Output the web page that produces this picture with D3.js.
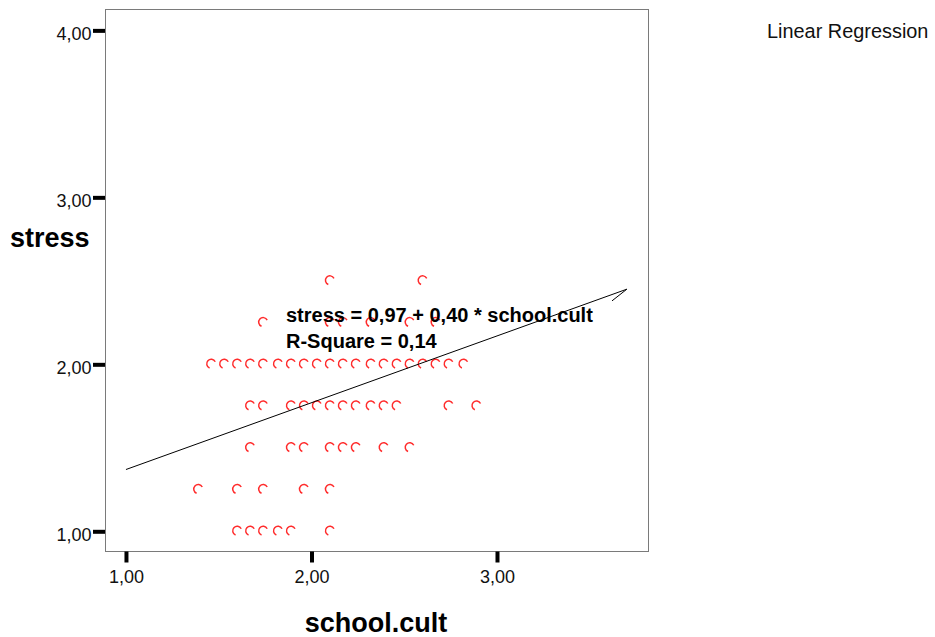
<!DOCTYPE html>
<html>
<head>
<meta charset="utf-8">
<script src="https://cdn.jsdelivr.net/npm/d3@7"></script>
<style>
  html, body { margin: 0; padding: 0; background: #fff; }
  svg { display: block; font-family: "Liberation Sans", Arial, sans-serif; }
</style>
</head>
<body>
<svg id="chart" width="935" height="637"></svg>
<script>
// school.cult observations grouped by stress level
const stressLevels = [1.00, 1.25, 1.50, 1.75, 2.00, 2.25, 2.50];
const cultAtStress100 = [1.57, 1.64, 1.71, 1.79, 1.86, 2.07];
const cultAtStress125 = [1.36, 1.57, 1.71, 1.93, 2.07];
const cultAtStress150 = [1.64, 1.86, 1.93, 2.07, 2.14, 2.21, 2.36, 2.50];
const cultAtStress175 = [1.64, 1.71, 1.86, 1.93, 2.00, 2.07, 2.14, 2.21, 2.29, 2.36, 2.43, 2.71, 2.86];
const cultAtStress200 = [1.43, 1.50, 1.57, 1.64, 1.71, 1.79, 1.86, 1.93, 2.00, 2.07, 2.14, 2.21, 2.29, 2.36, 2.43, 2.50, 2.57, 2.64, 2.71, 2.79];
const cultAtStress225 = [1.71, 2.07, 2.14, 2.29, 2.50, 2.64];
const cultAtStress250 = [2.07, 2.57];

// fitted line: stress = intercept + slope * school.cult
const fitIntercept = 0.97;
const fitSlope = 0.40;
const fitRSquare = 0.14;
const fitRange = [1.00, 3.70];
const fitTail = [3.62, 2.38];

const xTickValues = [1, 2, 3];
const yTickValues = [1, 2, 3, 4];
const xDomain = [0.887, 3.814];
const yDomain = [0.882, 4.128];

const xTitle = "school.cult";
const yTitle = "stress";
const legendTitle = "Linear Regression";

const rows = [cultAtStress100, cultAtStress125, cultAtStress150, cultAtStress175,
              cultAtStress200, cultAtStress225, cultAtStress250];
const points = [];
rows.forEach((row, i) => row.forEach(c => points.push({ cult: c, stress: stressLevels[i] })));

const comma = d => d3.format(".2f")(d).replace(".", ",");

const svg = d3.select("#chart");
const frame = { left: 105, right: 648, top: 9, bottom: 551 };

const x = d3.scaleLinear().domain(xDomain).range([frame.left, frame.right]);
const y = d3.scaleLinear().domain(yDomain).range([frame.bottom, frame.top]);

// plot frame
svg.append("rect")
  .attr("x", frame.left + 0.5).attr("y", frame.top + 0.5)
  .attr("width", frame.right - frame.left).attr("height", frame.bottom - frame.top)
  .attr("fill", "#fff").attr("stroke", "#7a7a7a").attr("stroke-width", 1);

// axes
const yAxis = svg.append("g")
  .attr("transform", `translate(${frame.left},0)`)
  .call(d3.axisLeft(y).tickValues(yTickValues).tickFormat(comma)
    .tickSizeInner(12).tickSizeOuter(0).tickPadding(1.5));
const xAxis = svg.append("g")
  .attr("transform", `translate(0,${frame.bottom + 0.5})`)
  .call(d3.axisBottom(x).tickValues(xTickValues).tickFormat(comma)
    .tickSizeInner(11).tickSizeOuter(0).tickPadding(8));

[yAxis, xAxis].forEach(g => {
  g.select(".domain").remove();
  g.selectAll(".tick line").attr("stroke", "#000").attr("stroke-width", 4);
  g.selectAll(".tick text").attr("fill", "#111").attr("font-size", 18)
    .attr("font-family", "'Liberation Sans', Arial, sans-serif");
});
yAxis.selectAll(".tick text").attr("dy", "0.53em");

// open-circle markers drawn as the partial arc glyph
const glyph = (() => {
  const p = d3.path();
  const r = 4.5;
  p.arc(0, 0, r, Math.PI * 0.62, Math.PI * 1.85, false);
  return p.toString();
})();

svg.append("g")
  .selectAll("path")
  .data(points)
  .join("path")
  .attr("d", glyph)
  .attr("transform", d => `translate(${x(d.cult) + 5.5},${y(d.stress) - 0.5})`)
  .attr("fill", "none")
  .attr("stroke", "#ff2b2b")
  .attr("stroke-width", 1.5);

// regression line with its end stroke
const fitPoints = [
  [fitRange[0], fitIntercept + fitSlope * fitRange[0]],
  [fitRange[1], fitIntercept + fitSlope * fitRange[1]],
  fitTail
];
svg.append("path")
  .attr("d", d3.line().x(d => x(d[0])).y(d => y(d[1]))(fitPoints))
  .attr("fill", "none")
  .attr("stroke", "#000")
  .attr("stroke-width", 1);

// equation annotation
const eq = svg.append("g").attr("font-weight", "bold").attr("font-size", 20).attr("fill", "#000");
eq.append("text").attr("x", 286).attr("y", 322)
  .text(`stress = ${comma(fitIntercept)} + ${comma(fitSlope)} * school.cult`);
eq.append("text").attr("x", 286).attr("y", 348)
  .text(`R-Square = ${comma(fitRSquare)}`);

// axis titles
svg.append("text").attr("x", 10).attr("y", 247)
  .attr("font-weight", "bold").attr("font-size", 27).attr("fill", "#000").text(yTitle);
svg.append("text").attr("x", 376).attr("y", 632).attr("text-anchor", "middle")
  .attr("font-weight", "bold").attr("font-size", 27).attr("fill", "#000").text(xTitle);

// legend
svg.append("text").attr("x", 767).attr("y", 38)
  .attr("font-size", 19.9).attr("fill", "#111").text(legendTitle);
</script>
</body>
</html>
